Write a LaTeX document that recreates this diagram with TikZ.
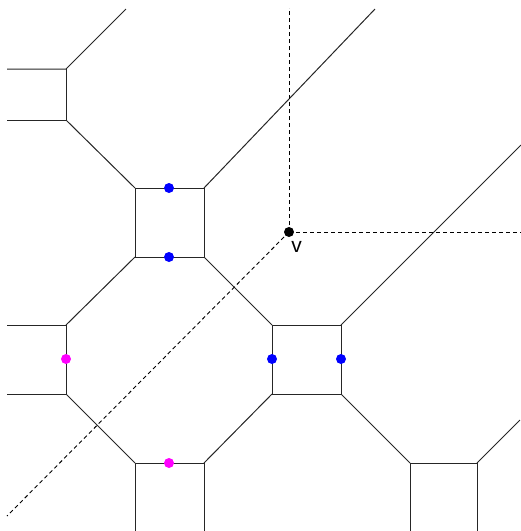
\documentclass[tikz,border=0pt]{standalone}
\usepackage{fontspec}
\setmainfont{Liberation Sans}
\definecolor{mag}{RGB}{255,0,255}
\definecolor{blu}{RGB}{0,0,255}
\begin{document}
\begin{tikzpicture}[x=1pt,y=-1pt,
  edge/.style={line width=1pt,black!85},
  dline/.style={line width=0.9pt,dash pattern=on 4pt off 3pt},
  bdot/.style={circle,fill=blu,inner sep=0pt,minimum size=10pt},
  mdot/.style={circle,fill=mag,inner sep=0pt,minimum size=10pt},
  vdot/.style={circle,fill=black,inner sep=0pt,minimum size=10pt}]
\useasboundingbox (0,0) rectangle (521,531);
% coordinates
\coordinate (a1) at (7,69); \coordinate (a2) at (66,69); \coordinate (a3) at (126,9);
\coordinate (b1) at (7,120); \coordinate (b2) at (66,120);
\coordinate (s1) at (135,188); \coordinate (s2) at (204,188);
\coordinate (s3) at (204,257); \coordinate (s4) at (135,257);
\coordinate (t1) at (375,9);
\coordinate (c1) at (7,325); \coordinate (c2) at (66,325);
\coordinate (d1) at (7,394); \coordinate (d2) at (66,394);
\coordinate (q1) at (272,325); \coordinate (q2) at (341,325);
\coordinate (q3) at (341,394); \coordinate (q4) at (272,394);
\coordinate (r1) at (521,145);
\coordinate (e1) at (135,463); \coordinate (e2) at (204,463);
\coordinate (e1b) at (135,531); \coordinate (e2b) at (204,531);
\coordinate (f1) at (410,463); \coordinate (f2) at (477,463);
\coordinate (f1b) at (410,531); \coordinate (f2b) at (477,531);
\coordinate (f3) at (520,420);
\coordinate (vt) at (289,8); \coordinate (vr) at (521,232); \coordinate (vl) at (7,516);
% edges
\draw[edge] (a1) -- (a2) -- (a3);
\draw[edge] (a2) -- (b2) -- (b1);
\draw[edge] (b2) -- (s1);
\draw[edge] (s1) -- (s2) -- (s3) -- (s4) -- cycle;
\draw[edge] (s2) -- (t1);
\draw[edge] (s4) -- (c2);
\draw[edge] (s3) -- (q1);
\draw[edge] (c1) -- (c2) -- (d2) -- (d1);
\draw[edge] (d2) -- (e1);
\draw[edge] (q1) -- (q2) -- (q3) -- (q4) -- cycle;
\draw[edge] (q2) -- (r1);
\draw[edge] (e1b) -- (e1) -- (e2) -- (e2b);
\draw[edge] (e2) -- (q4);
\draw[edge] (q3) -- (f1);
\draw[edge] (f1b) -- (f1) -- (f2) -- (f2b);
\draw[edge] (f2) -- (f3);
% dashed
\node[vdot] (v) at (289,232) {};
\draw[dline] (v.center) -- (vt);
\draw[dline] (v.center) -- (vr);
\draw[dline] (v.center) -- (vl);
\node[font=\fontsize{21}{21}\selectfont,inner sep=0pt] (vl2) at (296.5,247) {v};
% dots
\node[bdot] (p1) at (169,188) {};
\node[bdot] (p2) at (169,257) {};
\node[bdot] (p3) at (272,359) {};
\node[bdot] (p4) at (341,359) {};
\node[mdot] (m1) at (66,359) {};
\node[mdot] (m2) at (169,463) {};
\end{tikzpicture}
\end{document}
